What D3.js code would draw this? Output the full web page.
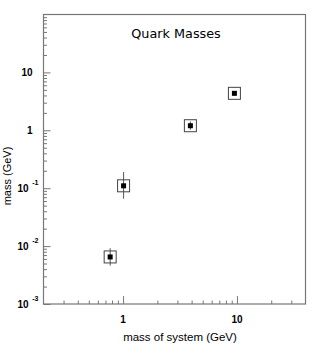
<!DOCTYPE html>
<html>
<head>
<meta charset="utf-8">
<script src="https://cdn.jsdelivr.net/npm/d3@7"></script>
<style>
  body { margin: 0; background: #fff; }
  svg { display: block; }
</style>
</head>
<body>
<div id="chart"></div>
<script>
// data (GeV)
var systemMass = [0.77, 1.01, 3.9, 9.5];
var quarkMass = [0.0065, 0.11, 1.2, 4.35];
var errLow = [0.0046, 0.066, 1.02, 4.0];
var errHigh = [0.0092, 0.19, 1.42, 4.7];

var xMajor = [1, 10];
var yMajor = [1e-3, 1e-2, 1e-1, 1, 10];
var yLabels = [["10", "-3"], ["10", "-2"], ["10", "-1"], ["1", ""], ["10", ""]];

var width = 310, height = 351;

var svg = d3.select("#chart").append("svg")
  .attr("width", width)
  .attr("height", height);

var x = d3.scaleLog().domain([0.2, 40]).range([43.5, 305.5]);
var y = d3.scaleLog().domain([1e-3, 1e2]).range([304, 14.5]);

// minor tick values 2..9 per decade
function minors(lo, hi) {
  var out = [];
  for (var p = lo; p < hi; p++) {
    for (var k = 1; k < 10; k++) {
      var v = k * Math.pow(10, p);
      out.push(v);
    }
  }
  return out;
}
var xMinor = minors(-1, 2).filter(function (v) {
  return v > 0.2 && v < 40 && xMajor.indexOf(v) < 0;
});
var yMinor = minors(-3, 2).filter(function (v) {
  return v > 1e-3 && v < 100 && Math.abs(Math.log10(v) % 1) > 1e-9;
});

// frame
svg.append("rect")
  .attr("x", x.range()[0])
  .attr("y", y.range()[1])
  .attr("width", x.range()[1] - x.range()[0])
  .attr("height", y.range()[0] - y.range()[1])
  .attr("fill", "none")
  .attr("stroke", "#777")
  .attr("stroke-width", 1.2);

function styleAxis(g) {
  g.select(".domain").remove();
  g.selectAll(".tick line").attr("stroke", "#777");
}

// x ticks (inward)
svg.append("g")
  .attr("transform", "translate(0," + y.range()[0] + ")")
  .call(d3.axisBottom(x).tickValues(xMinor).tickSize(-3.5).tickFormat(""))
  .call(styleAxis);
svg.append("g")
  .attr("transform", "translate(0," + y.range()[0] + ")")
  .call(d3.axisBottom(x).tickValues(xMajor).tickSize(-8).tickFormat(""))
  .call(styleAxis);

// y ticks (inward)
svg.append("g")
  .attr("transform", "translate(" + x.range()[0] + ",0)")
  .call(d3.axisLeft(y).tickValues(yMinor).tickSize(-3.5).tickFormat(""))
  .call(styleAxis);
svg.append("g")
  .attr("transform", "translate(" + x.range()[0] + ",0)")
  .call(d3.axisLeft(y).tickValues(yMajor).tickSize(-7).tickFormat(""))
  .call(styleAxis);

// x labels
svg.selectAll(".xlab")
  .data(xMajor)
  .enter()
  .append("text")
  .attr("class", "xlab")
  .attr("x", function (d) { return x(d); })
  .attr("y", 323)
  .attr("text-anchor", "middle")
  .style("font-family", "Liberation Sans, Arial, sans-serif")
  .style("font-weight", "bold")
  .style("font-size", "10px")
  .text(function (d) { return d; });

// y labels with superscript exponent
var yl = svg.selectAll(".ylab")
  .data(yMajor)
  .enter()
  .append("text")
  .attr("class", "ylab")
  .attr("y", function (d) { return y(d) + 3.5; })
  .style("font-family", "Liberation Sans, Arial, sans-serif")
  .style("font-weight", "bold")
  .style("font-size", "10px");
yl.each(function (d, i) {
  var t = d3.select(this);
  var lab = yLabels[i];
  if (lab[1]) {
    t.attr("x", 17.5).attr("text-anchor", "start");
    t.append("tspan").text(lab[0]);
    t.append("tspan")
      .attr("dx", 3.5)
      .attr("dy", -7)
      .style("font-size", "7px")
      .text(lab[1]);
  } else {
    t.attr("x", 32.5).attr("text-anchor", "end").text(lab[0]);
  }
});

// axis titles
svg.append("text")
  .attr("x", 180)
  .attr("y", 341)
  .attr("text-anchor", "middle")
  .style("font-family", "Liberation Sans, Arial, sans-serif")
  .style("font-size", "11.5px")
  .text("mass of system (GeV)");

svg.append("text")
  .attr("transform", "translate(11,176) rotate(-90)")
  .attr("text-anchor", "middle")
  .style("font-family", "Liberation Sans, Arial, sans-serif")
  .style("font-size", "11px")
  .text("mass (GeV)");

// title
svg.append("text")
  .attr("x", 176)
  .attr("y", 38)
  .attr("text-anchor", "middle")
  .style("font-family", "DejaVu Sans, sans-serif")
  .style("font-size", "12.8px")
  .text("Quark Masses");

// points
var idx = d3.range(systemMass.length);

svg.selectAll(".err")
  .data(idx)
  .enter()
  .append("line")
  .attr("class", "err")
  .attr("x1", function (i) { return x(systemMass[i]); })
  .attr("x2", function (i) { return x(systemMass[i]); })
  .attr("y1", function (i) { return y(errLow[i]); })
  .attr("y2", function (i) { return y(errHigh[i]); })
  .attr("stroke", "#555")
  .attr("stroke-width", 1);

svg.selectAll(".box")
  .data(idx)
  .enter()
  .append("rect")
  .attr("class", "box")
  .attr("x", function (i) { return x(systemMass[i]) - 6; })
  .attr("y", function (i) { return y(quarkMass[i]) - 6; })
  .attr("width", 12)
  .attr("height", 12)
  .attr("fill", "none")
  .attr("stroke", "#444")
  .attr("stroke-width", 1);

svg.selectAll(".dot")
  .data(idx)
  .enter()
  .append("rect")
  .attr("class", "dot")
  .attr("x", function (i) { return x(systemMass[i]) - 2.5; })
  .attr("y", function (i) { return y(quarkMass[i]) - 2.5; })
  .attr("width", 5)
  .attr("height", 5)
  .attr("fill", "#000");
</script>
</body>
</html>
